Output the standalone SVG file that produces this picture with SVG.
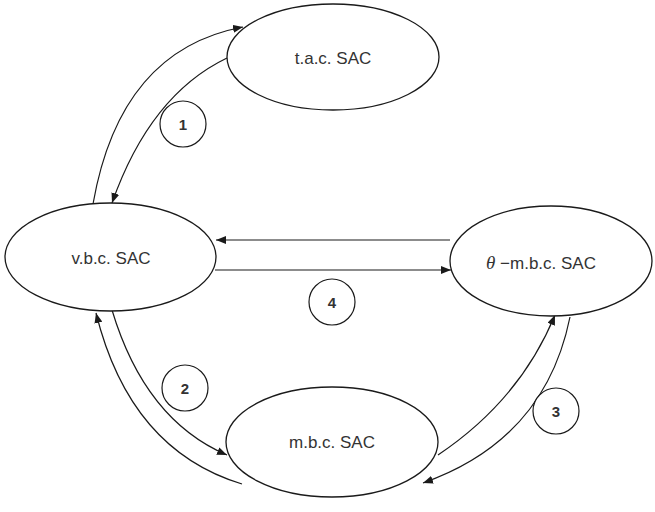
<svg xmlns="http://www.w3.org/2000/svg" width="655" height="512" viewBox="0 0 655 512">
<defs>
<marker id="ah" viewBox="0 0 10 8" refX="10" refY="4" markerWidth="10" markerHeight="8" markerUnits="userSpaceOnUse" orient="auto">
<path d="M0,0 L10,4 L0,8 Z" fill="#1a1a1a"/>
</marker>
</defs>
<style>
.node { fill: #ffffff; stroke: #1a1a1a; stroke-width: 1.3; }
.lbl { font-family: "Liberation Sans", Arial, sans-serif; font-size: 17px; fill: #333333; text-anchor: middle; }
.edge { fill: none; stroke: #1a1a1a; stroke-width: 1.2; marker-end: url(#ah); }
.badge { fill: #ffffff; stroke: #1a1a1a; stroke-width: 1.2; }
.num { font-family: "Liberation Sans", Arial, sans-serif; font-size: 15px; font-weight: bold; fill: #333333; text-anchor: middle; }
</style>
<rect width="655" height="512" fill="#ffffff"/>
<g id="connectors">
<path class="edge" d="M93,204 Q120,50 243,27"/>
<path class="edge" d="M227,58 Q150,95 112,203"/>
<path class="edge" d="M450,240 L216,240"/>
<path class="edge" d="M215,270 L451,270"/>
<path class="edge" d="M112,310 Q145,420 227,455"/>
<path class="edge" d="M242,484 Q130,450 96,313"/>
<path class="edge" d="M438,455 Q520,400 555,315"/>
<path class="edge" d="M570,317 Q545,440 423,483"/>
</g>
<g id="node-tac">
<ellipse class="node" cx="333" cy="57" rx="106" ry="53"/>
<text class="lbl" x="333" y="64">t.a.c. SAC</text>
</g>
<g id="node-vbc">
<ellipse class="node" cx="110.5" cy="257" rx="105.5" ry="54"/>
<text class="lbl" x="111" y="264">v.b.c. SAC</text>
</g>
<g id="node-theta">
<ellipse class="node" cx="551" cy="261" rx="101" ry="55"/>
<text class="lbl" x="541" y="269"><tspan font-family="'Liberation Serif', serif" font-style="italic" font-size="19">θ</tspan> −m.b.c. SAC</text>
</g>
<g id="node-mbc">
<ellipse class="node" cx="332" cy="442" rx="106" ry="55"/>
<text class="lbl" x="332" y="448">m.b.c. SAC</text>
</g>
<g id="badge-1">
<circle class="badge" cx="183" cy="124" r="23"/>
<text class="num" x="183" y="130">1</text>
</g>
<g id="badge-4">
<circle class="badge" cx="332" cy="302" r="23"/>
<text class="num" x="332" y="308">4</text>
</g>
<g id="badge-2">
<circle class="badge" cx="185" cy="388" r="23"/>
<text class="num" x="185" y="394">2</text>
</g>
<g id="badge-3">
<circle class="badge" cx="556" cy="411" r="23"/>
<text class="num" x="556" y="417">3</text>
</g>
</svg>
